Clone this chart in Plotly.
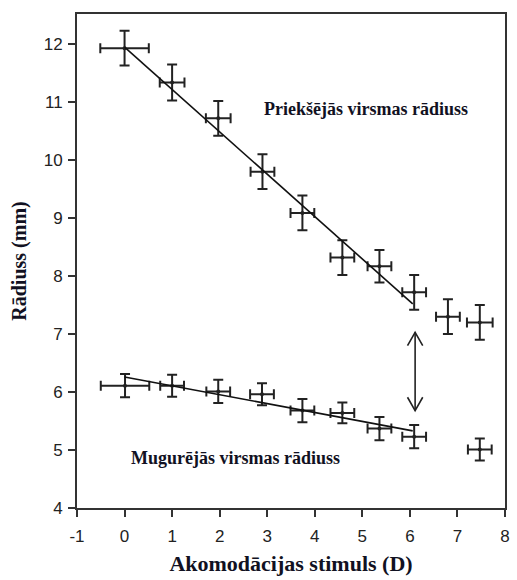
import plotly.graph_objects as go

# Anterior surface radius (Priekšējās virsmas rādiuss)
ant_x = [0.0, 1.0, 1.97, 2.90, 3.74, 4.58, 5.36, 6.09, 6.80, 7.47]
ant_y = [11.93, 11.34, 10.72, 9.80, 9.09, 8.32, 8.17, 7.72, 7.30, 7.20]
ant_xerr = [0.51, 0.26, 0.26, 0.25, 0.25, 0.25, 0.25, 0.25, 0.25, 0.27]
ant_yerr = [0.30, 0.31, 0.30, 0.30, 0.30, 0.30, 0.28, 0.30, 0.30, 0.30]

# Posterior surface radius (Mugurējās virsmas rādiuss)
post_x = [0.01, 1.0, 1.97, 2.89, 3.74, 4.58, 5.36, 6.09, 7.47]
post_y = [6.11, 6.11, 6.01, 5.96, 5.68, 5.64, 5.37, 5.23, 5.01]
post_xerr = [0.51, 0.25, 0.25, 0.25, 0.25, 0.25, 0.25, 0.25, 0.25]
post_yerr = [0.20, 0.19, 0.20, 0.19, 0.20, 0.18, 0.20, 0.20, 0.19]

# Regression lines (endpoints)
ant_fit_x = [0.0, 6.06]
ant_fit_y = [11.95, 7.52]
post_fit_x = [0.0, 6.06]
post_fit_y = [6.26, 5.33]

# Double arrow
arrow_x = 6.11
arrow_y = [5.68, 7.03]

x_ticks = list(range(-1, 9))
x_ticktext = ["-1", "0", "1", "2", "3", "4", "5", "6", "7", "8"]
y_ticks = list(range(4, 13))

ink = "#222222"

fig = go.Figure()

def add_series(x, y, xe, ye):
    fig.add_trace(go.Scatter(
        x=x, y=y, mode="markers",
        marker=dict(size=4, color=ink),
        error_x=dict(type="data", array=xe, visible=True, color=ink, thickness=2, width=5),
        error_y=dict(type="data", array=ye, visible=True, color=ink, thickness=2, width=5),
        showlegend=False, hoverinfo="skip"))

add_series(ant_x, ant_y, ant_xerr, ant_yerr)
add_series(post_x, post_y, post_xerr, post_yerr)

for fx, fy in [(ant_fit_x, ant_fit_y), (post_fit_x, post_fit_y)]:
    fig.add_trace(go.Scatter(x=fx, y=fy, mode="lines",
                             line=dict(color="#111111", width=1.6),
                             showlegend=False, hoverinfo="skip"))

# vertical double-headed arrow with open V heads
hx, hy = 0.16, 0.23
y0, y1 = arrow_y
fig.add_shape(type="line", x0=arrow_x, x1=arrow_x, y0=y0, y1=y1,
              line=dict(color=ink, width=1.6))
fig.add_shape(type="path",
              path=f"M {arrow_x-hx},{y1-hy} L {arrow_x},{y1} L {arrow_x+hx},{y1-hy}",
              line=dict(color=ink, width=1.6))
fig.add_shape(type="path",
              path=f"M {arrow_x-hx},{y0+hy} L {arrow_x},{y0} L {arrow_x+hx},{y0+hy}",
              line=dict(color=ink, width=1.6))

serif = "Liberation Serif, Times New Roman, serif"
fig.add_annotation(x=5.08, y=10.88, text="<b>Priekšējās virsmas rādiuss</b>",
                   showarrow=False, font=dict(family=serif, size=18, color="#111122"))
fig.add_annotation(x=2.33, y=4.87, text="<b>Mugurējās virsmas rādiuss</b>",
                   showarrow=False, font=dict(family=serif, size=18, color="#111122"))

axis_common = dict(showline=True, linecolor="#333333", linewidth=2, mirror=True,
                   ticks="outside", ticklen=7, tickwidth=1.5, tickcolor="#333333",
                   showgrid=False, zeroline=False,
                   tickfont=dict(family="Liberation Sans, Arial, sans-serif", size=17, color="#222222"))

fig.update_xaxes(range=[-1, 8], tickvals=x_ticks, ticktext=x_ticktext, ticklabelstandoff=5,
                 title=dict(text="<b>Akomodācijas stimuls (D)</b>",
                            font=dict(family=serif, size=22, color="#111122"), standoff=10),
                 **axis_common)
fig.update_yaxes(range=[4, 12.52], tickvals=y_ticks, ticklabelstandoff=2,
                 title=dict(text="<b>Rādiuss (mm)</b>",
                            font=dict(family=serif, size=20, color="#111122"), standoff=12),
                 **axis_common)

fig.update_layout(width=517, height=580,
                  margin=dict(l=77, r=7, t=14, b=72),
                  plot_bgcolor="white", paper_bgcolor="white")

fig.write_html("out.html")
